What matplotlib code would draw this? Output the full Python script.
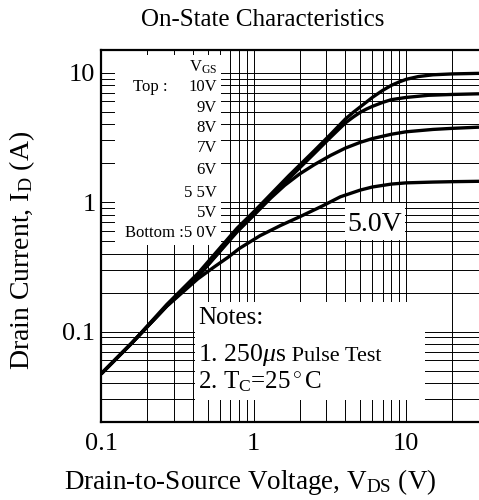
import matplotlib
matplotlib.use('Agg')
import matplotlib.pyplot as plt
from matplotlib.ticker import LogLocator, NullFormatter
from matplotlib.patches import Rectangle

plt.rcParams['font.family'] = ['Liberation Serif', 'DejaVu Serif']
plt.rcParams['mathtext.fontset'] = 'custom'
plt.rcParams['mathtext.rm'] = 'Liberation Serif'
plt.rcParams['mathtext.it'] = 'Liberation Serif:italic'

# curves (VDS in V, ID in A)
vds_top = [0.1, 0.16, 0.27, 0.43, 0.78, 1.0, 1.7, 2.5, 3.2, 4.0, 4.5, 5.0, 6.0, 7.0, 8.0, 9.0, 10, 12, 15, 20, 30]
id_top = [0.047, 0.082, 0.162, 0.28, 0.63, 0.84, 1.6, 2.5, 3.35, 4.4, 4.95, 5.45, 6.45, 7.3, 8.0, 8.5, 8.9, 9.35, 9.65, 9.8, 9.9]

vds_2 = [0.1, 0.16, 0.27, 0.43, 0.78, 1.0, 1.7, 2.5, 3.2, 4.0, 4.5, 5.0, 5.5, 6.0, 7.0, 8.0, 10, 14, 20, 30]
id_2 = [0.047, 0.082, 0.158, 0.265, 0.6, 0.8, 1.52, 2.38, 3.18, 4.1, 4.55, 4.95, 5.25, 5.5, 5.9, 6.2, 6.45, 6.7, 6.8, 6.88]

vds_3 = [0.1, 0.16, 0.27, 0.43, 0.78, 1.0, 1.3, 1.6, 2.0, 2.5, 3.2, 4.0, 5.0, 6.0, 8.0, 10, 15, 20, 30]
id_3 = [0.047, 0.082, 0.158, 0.265, 0.59, 0.79, 1.08, 1.35, 1.65, 1.95, 2.3, 2.62, 2.9, 3.1, 3.35, 3.5, 3.65, 3.72, 3.8]

vds_bot = [0.1, 0.16, 0.27, 0.43, 0.55, 0.68, 0.81, 1.1, 1.5, 2.0, 2.8, 3.7, 5.0, 6.0, 8.0, 10, 15, 20, 30]
id_bot = [0.047, 0.082, 0.157, 0.255, 0.315, 0.375, 0.44, 0.55, 0.66, 0.77, 0.93, 1.10, 1.24, 1.31, 1.38, 1.41, 1.43, 1.44, 1.45]

vgs_labels = ['10V', '9V', '8V', '7V', '6V', '5 5V', '5V', '5 0V']
tick_vals = [0.1, 1, 10]
tick_text = ['0.1', '1', '10']

fig = plt.figure(figsize=(4.79, 5.0), dpi=100)
ax = fig.add_axes([101/479, 78/500, 378/479, 372/500])
ax.set_xscale('log')
ax.set_yscale('log')
ax.set_xlim(0.1, 30)
ax.set_ylim(0.02, 15)

ax.xaxis.set_minor_locator(LogLocator(base=10, subs=range(2, 10)))
ax.yaxis.set_minor_locator(LogLocator(base=10, subs=range(2, 10)))
ax.xaxis.set_minor_formatter(NullFormatter())
ax.yaxis.set_minor_formatter(NullFormatter())
ax.grid(True, which='both', color='black', linewidth=0.7, zorder=0)
ax.set_xticks(tick_vals)
ax.set_xticklabels(tick_text)
ax.set_yticks(tick_vals)
ax.set_yticklabels(tick_text)
ax.tick_params(which='both', length=0, labelsize=19)
ax.tick_params(axis='x', pad=8)
ax.tick_params(axis='y', pad=4)
for s in ['left', 'bottom', 'top']:
    ax.spines[s].set_linewidth(1.6)
ax.spines['right'].set_visible(False)

for xs, ys in [(vds_bot, id_bot), (vds_3, id_3), (vds_2, id_2), (vds_top, id_top)]:
    ax.plot(xs, ys, color='black', linewidth=2.4, zorder=3, solid_capstyle='butt', solid_joinstyle='round')

# white boxes that cover the grid
tr = ax.transAxes
ax.add_patch(Rectangle((0.037, 0.476), 0.28, 0.511, transform=tr, facecolor='white', edgecolor='none', zorder=2))
ax.add_patch(Rectangle((0.249, 0.059), 0.608, 0.264, transform=tr, facecolor='white', edgecolor='none', zorder=2))
ax.add_patch(Rectangle((0.646, 0.489), 0.159, 0.1, transform=tr, facecolor='white', edgecolor='none', zorder=2))

# legend list
xr = (217 - 101) / 378
ax.text(xr, (422 - 67) / 372, r'V$_\mathrm{GS}$', transform=tr, ha='right', va='center', fontsize=12, zorder=4)
ys_leg = [87, 108, 128, 148, 170, 193, 213, 233]
for lab, py in zip(vgs_labels[:-1], ys_leg[:-1]):
    ax.text(xr, (422 - py) / 372, lab, transform=tr, ha='right', va='center', fontsize=12, zorder=4)
ax.text(xr, (422 - ys_leg[-1]) / 372, 'Bottom :' + vgs_labels[-1], transform=tr, ha='right', va='center', fontsize=12, zorder=4)
ax.text((168 - 101) / 378, (422 - 87) / 372, 'Top :', transform=tr, ha='right', va='center', fontsize=12, zorder=4)

ax.text(0.725, 0.53, '5.0V', transform=tr, ha='center', va='center', fontsize=20, zorder=4)

# notes
ax.text(0.256, 0.28, 'Notes:', transform=tr, ha='left', va='center', fontsize=18, zorder=4)
t1 = ax.text(0.256, 0.165, r'1. 250$\mathit{\mu}$s', transform=tr, ha='left', va='baseline', fontsize=18.5, zorder=4)
ax.text(0.256, 0.09, r'2. T$_\mathrm{C}$=25$^\circ$C', transform=tr, ha='left', va='baseline', fontsize=18, zorder=4)
r = fig.canvas.get_renderer()
bb = t1.get_window_extent(renderer=r)
xa = tr.inverted().transform((bb.x1, 0))[0]
ax.text(xa, 0.165, ' Pulse Test', transform=tr, ha='left', va='baseline', fontsize=16, zorder=4)

fig.text(263/479, 1 - 20/500, 'On-State Characteristics', ha='center', va='center', fontsize=18)
fig.text(250/479, 1 - 482/500, r'Drain-to-Source Voltage, V$_\mathrm{DS}$ (V)', ha='center', va='center', fontsize=19.5)
fig.text(22/479, 1 - 250/500, r'Drain Current, I$_\mathrm{D}$ (A)', ha='center', va='center', rotation=90, fontsize=20)

fig.savefig('out.png', dpi=100)
